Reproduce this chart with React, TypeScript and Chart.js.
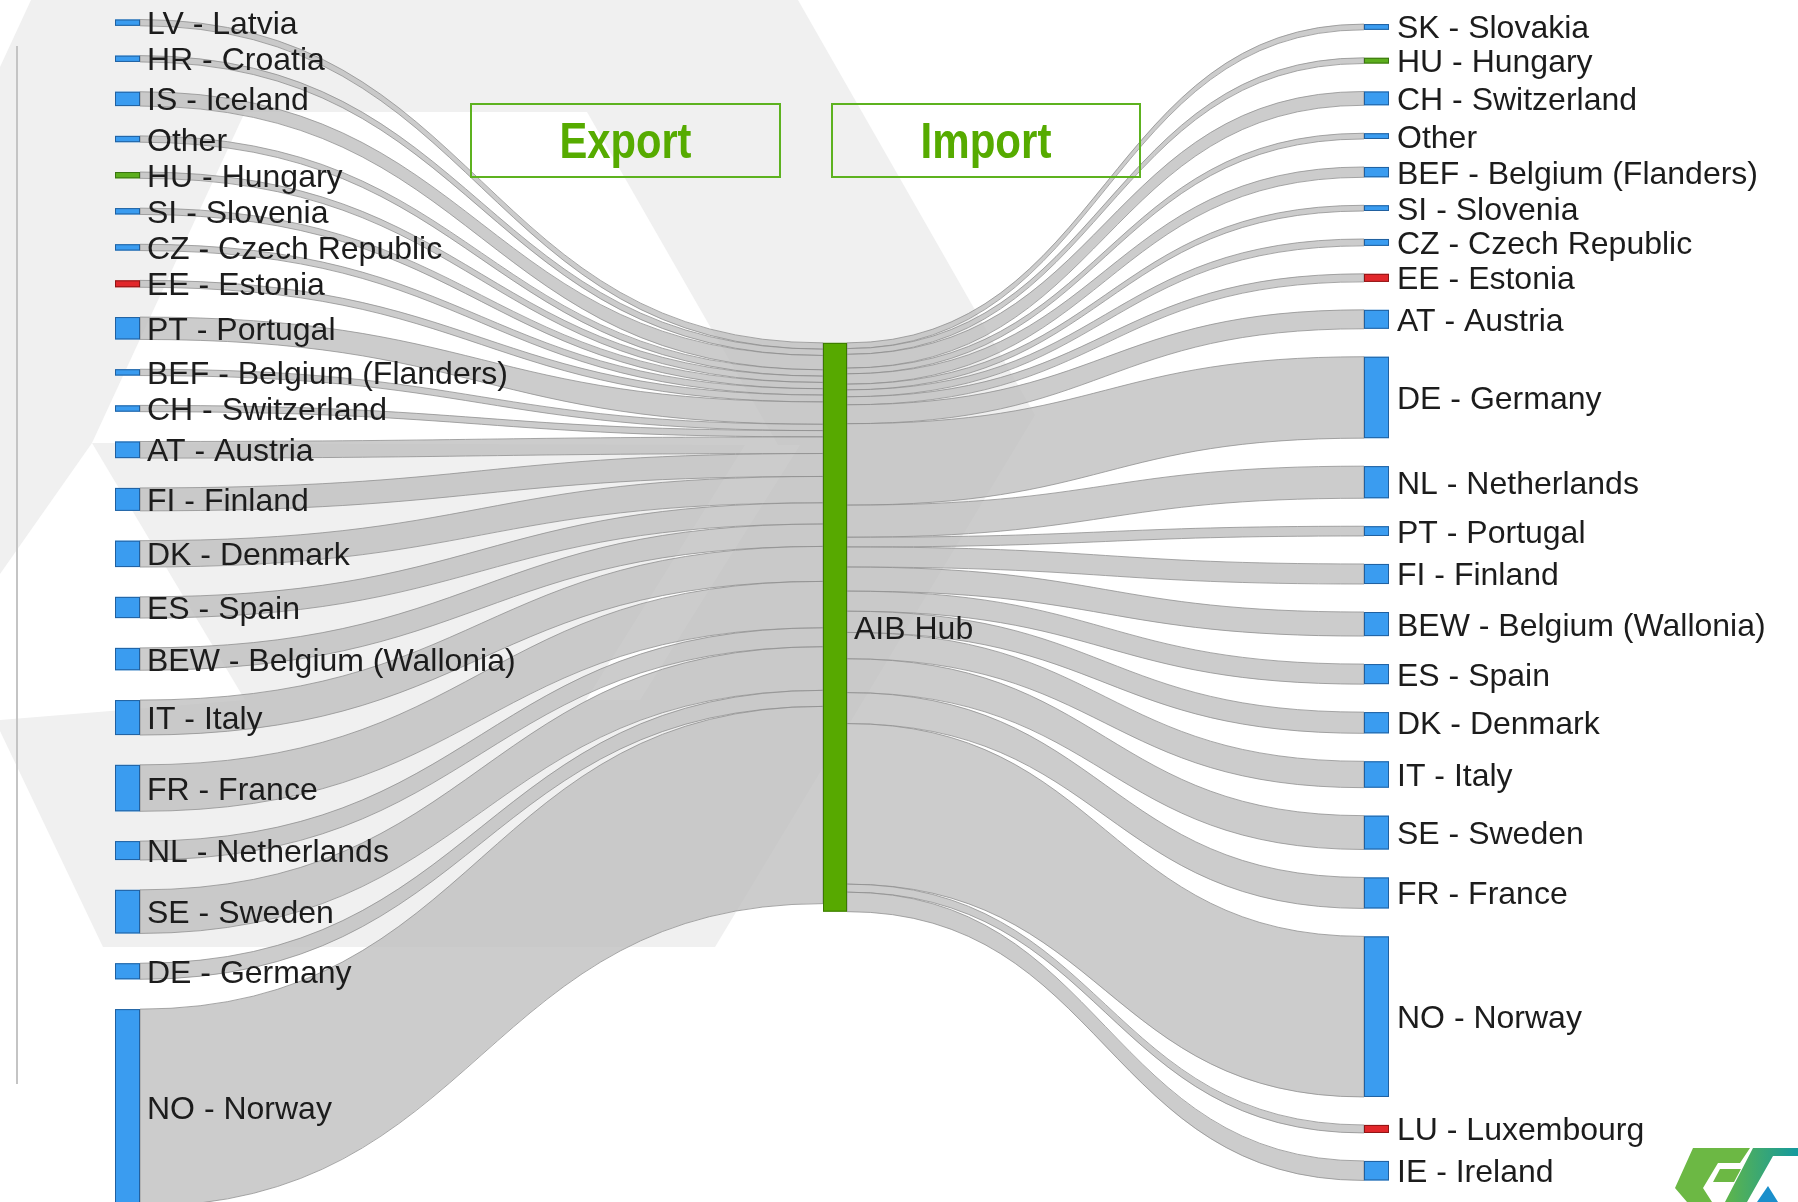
import React, { useEffect, useRef } from "react";
import { Chart, registerables } from "chart.js";

Chart.register(...registerables);

// ---------- data ----------
const exportLabels = [
  "LV - Latvia", "HR - Croatia", "IS - Iceland", "Other", "HU - Hungary", "SI - Slovenia",
  "CZ - Czech Republic", "EE - Estonia", "PT - Portugal", "BEF - Belgium (Flanders)",
  "CH - Switzerland", "AT - Austria", "FI - Finland", "DK - Denmark", "ES - Spain",
  "BEW - Belgium (Wallonia)", "IT - Italy", "FR - France", "NL - Netherlands", "SE - Sweden",
  "DE - Germany", "NO - Norway",
];
const exportValues = [
  5.5, 5.5, 12.5, 5.5, 5.5, 5.5, 5.5, 6, 19.5, 5.5, 5.5, 14.5, 20, 23, 18.5, 19.5, 30.5, 40.5,
  16.5, 38, 14, 172,
];

const importLabels = [
  "SK - Slovakia", "HU - Hungary", "CH - Switzerland", "Other", "BEF - Belgium (Flanders)",
  "SI - Slovenia", "CZ - Czech Republic", "EE - Estonia", "AT - Austria", "DE - Germany",
  "NL - Netherlands", "PT - Portugal", "FI - Finland", "BEW - Belgium (Wallonia)", "ES - Spain",
  "DK - Denmark", "IT - Italy", "SE - Sweden", "FR - France", "NO - Norway", "LU - Luxembourg",
  "IE - Ireland",
];
const importValues = [
  5, 5, 12, 5, 9, 5, 6, 7, 16.5, 71, 28, 8.5, 17.5, 21, 17.5, 18.5, 23, 29.5, 27, 140, 7, 17,
];

const hubLabel = "AIB Hub";
const panelTitles = ["Export", "Import"];

// ---------- layout / style ----------
const CANVAS_W = 1798;
const CANVAS_H = 1202;
const Y_MAX = 1048.2; // value units spanned by the canvas height
const NODE_W = 25;
const LEFT_X = 115;
const HUB_X = 823;
const RIGHT_X = 1364;
const LEFT_TOP = 17;
const LEFT_GAP = 26;
const RIGHT_TOP = 21;
const RIGHT_GAP = 24.4;
const HUB_TOP = 299;
const FONT = '"Liberation Sans", Arial, sans-serif';

const sum = (a: number[]) => a.reduce((s, v) => s + v, 0);

function stack(values: number[], top: number, gap: number) {
  const out: { y0: number; y1: number }[] = [];
  let y = top;
  for (const v of values) {
    out.push({ y0: y, y1: y + v });
    y += v + gap;
  }
  return out;
}

function nodeStyle(label: string): [string, string] {
  const code = label.split(" - ")[0];
  if (code === "EE" || code === "LU") return ["#e2272b", "#8e1616"];
  if (code === "HU") return ["#5cae1d", "#3a7410"];
  return ["#3a9cf0", "#21609f"];
}

function poly(ctx: CanvasRenderingContext2D, pts: number[][], fill: string | CanvasGradient) {
  ctx.beginPath();
  pts.forEach(([x, y], i) => (i ? ctx.lineTo(x, y) : ctx.moveTo(x, y)));
  ctx.closePath();
  ctx.fillStyle = fill;
  ctx.fill();
}

const sankeyPlugin = {
  id: "sankeyDraw",
  beforeDatasetsDraw(chart: any) {
    const ctx: CanvasRenderingContext2D = chart.ctx;
    const xs = chart.scales.x;
    const ys = chart.scales.y;
    const px = (v: number) => xs.getPixelForValue(v);
    const py = (v: number) => ys.getPixelForValue(v);

    ctx.save();
    // background watermark
    ctx.fillStyle = "#ffffff";
    ctx.fillRect(0, 0, CANVAS_W, CANVAS_H);
    poly(ctx, [[31, 0], [798, 0], [1035, 415], [715, 947], [103, 947], [0, 731], [0, 67]], "#f0f0f0");
    poly(ctx, [[245, 112], [587, 112], [778, 445], [92, 443]], "#ffffff");
    poly(ctx, [[92, 443], [245, 700], [0, 720], [0, 574]], "#ffffff");
    poly(ctx, [[745, 445], [800, 445], [640, 700], [586, 700]], "#ffffff");

    // thin vertical rule
    ctx.fillStyle = "#c4c4c4";
    ctx.fillRect(16, 46, 2, 1038);

    const left = stack(exportValues, LEFT_TOP, LEFT_GAP);
    const right = stack(importValues, RIGHT_TOP, RIGHT_GAP);
    const hubH = Math.max(sum(exportValues), sum(importValues));

    const link = (x0: number, a0: number, a1: number, x1: number, b0: number, b1: number) => {
      const xm = (x0 + x1) / 2;
      ctx.beginPath();
      ctx.moveTo(x0, a0);
      ctx.bezierCurveTo(xm, a0, xm, b0, x1, b0);
      ctx.lineTo(x1, b1);
      ctx.bezierCurveTo(xm, b1, xm, a1, x0, a1);
      ctx.closePath();
      ctx.fill();
      ctx.stroke();
    };

    ctx.fillStyle = "rgba(190,190,190,0.78)";
    ctx.strokeStyle = "rgba(140,140,140,0.75)";
    ctx.lineWidth = 1;
    // export links: country -> hub
    let acc = HUB_TOP;
    exportValues.forEach((v, i) => {
      link(px(LEFT_X + NODE_W), py(left[i].y0), py(left[i].y1), px(HUB_X), py(acc), py(acc + v));
      acc += v;
    });
    // import links: hub -> country
    acc = HUB_TOP;
    importValues.forEach((v, i) => {
      link(px(HUB_X + 24), py(acc), py(acc + v), px(RIGHT_X), py(right[i].y0), py(right[i].y1));
      acc += v;
    });

    // nodes
    const node = (x: number, y0: number, y1: number, w: number, fill: string, stroke: string) => {
      const X0 = px(x);
      const Y0 = py(y0);
      const h = Math.max(py(y1) - Y0, 4);
      ctx.fillStyle = fill;
      ctx.fillRect(X0, Y0, px(x + w) - X0, h);
      ctx.strokeStyle = stroke;
      ctx.lineWidth = 1;
      ctx.strokeRect(X0 + 0.5, Y0 + 0.5, px(x + w) - X0 - 1, h - 1);
    };
    exportLabels.forEach((l, i) => {
      const [f, s] = nodeStyle(l);
      node(LEFT_X, left[i].y0, left[i].y1, NODE_W, f, s);
    });
    importLabels.forEach((l, i) => {
      const [f, s] = nodeStyle(l);
      node(RIGHT_X, right[i].y0, right[i].y1, NODE_W, f, s);
    });
    node(HUB_X, HUB_TOP, HUB_TOP + hubH, 24, "#57a900", "#3b7800");

    // labels
    ctx.font = `32px ${FONT}`;
    ctx.fillStyle = "#1c1c1c";
    ctx.textBaseline = "alphabetic";
    ctx.textAlign = "left";
    const capHalf = 11.5;
    exportLabels.forEach((l, i) => {
      ctx.fillText(l, px(LEFT_X + NODE_W + 7), py((left[i].y0 + left[i].y1) / 2) + capHalf);
    });
    importLabels.forEach((l, i) => {
      ctx.fillText(l, px(RIGHT_X + NODE_W + 8), py((right[i].y0 + right[i].y1) / 2) + capHalf);
    });
    ctx.fillText(hubLabel, px(HUB_X + 24 + 7), py(HUB_TOP + hubH / 2) + capHalf);

    // Export / Import boxes
    const boxes = [
      { x0: 471, x1: 780, w: 132 },
      { x0: 832, x1: 1140, w: 131 },
    ];
    boxes.forEach((b, i) => {
      ctx.strokeStyle = "#5db21f";
      ctx.lineWidth = 2;
      ctx.strokeRect(b.x0, 104, b.x1 - b.x0, 73);
      ctx.font = `bold 50px "Liberation Sans Narrow", ${FONT}`;
      ctx.fillStyle = "#56ab00";
      ctx.textAlign = "center";
      ctx.fillText(panelTitles[i], (b.x0 + b.x1) / 2, 158, b.w);
    });

    // logo (bottom right)
    poly(ctx, [[1693, 1148], [1750, 1148], [1740, 1163], [1718, 1163], [1703, 1188], [1712, 1202], [1687, 1202], [1675, 1188]], "#6cb844");
    poly(ctx, [[1720, 1169], [1741, 1169], [1734, 1182], [1713, 1182]], "#6cb844");
    const g = ctx.createLinearGradient(1725, 0, 1798, 0);
    g.addColorStop(0, "#5fb54a");
    g.addColorStop(1, "#14999e");
    poly(ctx, [[1753, 1148], [1798, 1148], [1798, 1156], [1773, 1156], [1747, 1202], [1725, 1202]], g);
    poly(ctx, [[1768, 1186], [1778, 1202], [1757, 1202]], "#1a8fcb");
    ctx.restore();
  },
};

export default function App() {
  const ref = useRef<HTMLCanvasElement>(null);
  useEffect(() => {
    const canvas = ref.current!;
    const chart = new Chart(canvas, {
      type: "scatter",
      data: { datasets: [{ data: [], pointRadius: 0 }] },
      options: {
        animation: false,
        responsive: false,
        maintainAspectRatio: false,
        events: [],
        layout: { padding: 0 },
        plugins: { legend: { display: false }, tooltip: { enabled: false } },
        scales: {
          x: { type: "linear", min: 0, max: CANVAS_W, display: false },
          y: { type: "linear", min: 0, max: Y_MAX, reverse: true, display: false },
        },
      },
      plugins: [sankeyPlugin],
    });
    return () => chart.destroy();
  }, []);
  return (
    <div style={{ position: "absolute", left: 0, top: 0, width: CANVAS_W, height: CANVAS_H, background: "#fff" }}>
      <canvas ref={ref} width={CANVAS_W} height={CANVAS_H} style={{ display: "block" }} />
    </div>
  );
}
